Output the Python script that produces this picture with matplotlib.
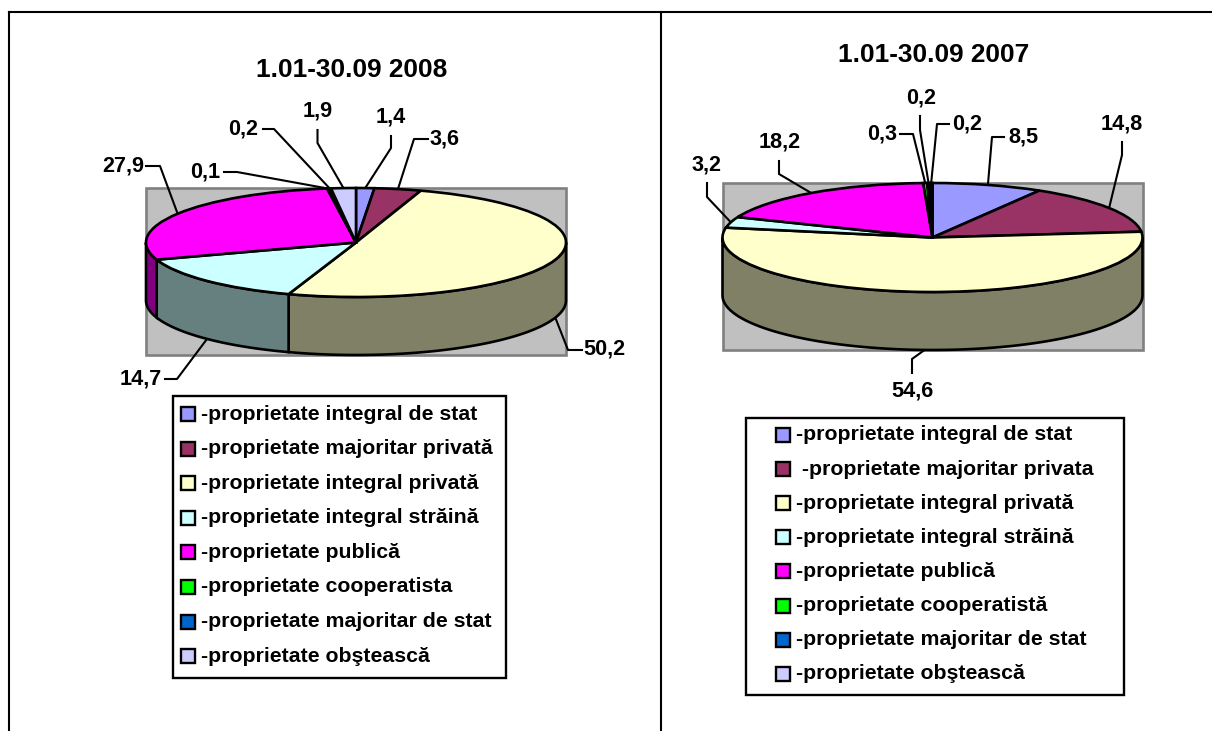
#! /usr/bin/python3

import matplotlib
matplotlib.use('Agg')
import matplotlib.pyplot as plt
from matplotlib.patches import Rectangle
import numpy as np

# share of each form of ownership, in drawing order (clockwise from the top)
values_2008 = [1.4, 3.6, 50.2, 14.7, 27.9, 0.1, 0.2, 1.9]
values_2007 = [8.5, 14.8, 54.6, 3.2, 18.2, 0.3, 0.2, 0.2]
labels_2008 = ["1,4", "3,6", "50,2", "14,7", "27,9", "0,1", "0,2", "1,9"]
labels_2007 = ["8,5", "14,8", "54,6", "3,2", "18,2", "0,3", "0,2", "0,2"]
legend_2008 = ["-proprietate integral de stat", "-proprietate majoritar privată",
               "-proprietate integral privată", "-proprietate integral străină",
               "-proprietate publică", "-proprietate cooperatista",
               "-proprietate majoritar de stat", "-proprietate obştească"]
legend_2007 = ["-proprietate integral de stat", " -proprietate majoritar privata",
               "-proprietate integral privată", "-proprietate integral străină",
               "-proprietate publică", "-proprietate cooperatistă",
               "-proprietate majoritar de stat", "-proprietate obştească"]
colors = ["#9999FF", "#993366", "#FFFFCC", "#CCFFFF", "#FF00FF", "#00FF00", "#0066CC", "#CCCCFF"]
side_colors = ["#4D4D80", "#4D1A33", "#808066", "#668080", "#800080", "#008000", "#003366", "#666680"]

W, H = 1212, 731
plt.rcParams['font.family'] = ['Liberation Sans', 'DejaVu Sans']
plt.rcParams['font.weight'] = 'bold'

fig = plt.figure(figsize=(W / 100, H / 100), dpi=100)
page = fig.add_axes([0, 0, 1, 1])
page.set_xlim(0, W)
page.set_ylim(H, 0)
page.axis('off')

# cell borders of the table around the charts
page.plot([9, 9], [12, H], color='k', lw=1.5)
page.plot([660.5, 660.5], [12, H], color='k', lw=1.5)
page.plot([9, W], [12, 12], color='k', lw=1.5)


def draw_panel(values, labels, names, title, title_xy, cx, cy, label_xy, elbows, legend_box, legend_rows):
    rx, ry, depth = 210, 54.5, 58

    # grey plot area behind the pie
    page.add_patch(Rectangle((cx - rx, cy - ry), 2 * rx, 2 * ry + depth, fc='#C0C0C0', ec='#808080', lw=1.9, zorder=1))
    page.text(title_xy[0], title_xy[1], title, fontsize=18.9, ha='center', va='center')

    # the pie gets its own axes so wedges come out as ellipses
    depth_u = depth / ry
    m = 1.15
    ax = fig.add_axes([(cx - m * rx) / W, 1 - (cy + (m + depth_u) * ry) / H,
                       2 * m * rx / W, (2 * m + depth_u) * ry / H], zorder=2)
    wedges, _ = ax.pie(values, colors=colors, startangle=90, counterclock=False, radius=1,
                       wedgeprops={'edgecolor': 'k', 'linewidth': 1.9})
    for w in wedges:
        w.set_zorder(3)
    ax.set_aspect('auto')
    ax.set_xlim(-m, m)
    ax.set_ylim(-m - depth_u, m)
    ax.patch.set_visible(False)

    edges = np.cumsum([0] + values) / sum(values) * 360

    # side wall, only the part that faces the viewer
    for i in range(len(values)):
        t0 = max(edges[i], 90)
        t1 = min(edges[i + 1], 270)
        if t1 > t0:
            t = np.radians(np.linspace(t0, t1, 80))
            x = np.sin(t)
            y = np.cos(t)
            ax.fill(np.r_[x, x[::-1]], np.r_[y, y[::-1] - depth_u], fc=side_colors[i], ec='k', lw=1.9, zorder=2)

    # labels with leader lines going to the middle of each slice
    for i in range(len(values)):
        mid = np.radians((edges[i] + edges[i + 1]) / 2)
        ax_x = cx + rx * np.sin(mid)
        ax_y = cy - ry * np.cos(mid)
        if np.cos(mid) < 0:
            ax_y += depth
        page.plot([elbows[i][0][0], elbows[i][1][0], ax_x], [elbows[i][0][1], elbows[i][1][1], ax_y],
                  color='k', lw=1.5, zorder=2)
        page.text(label_xy[i][0], label_xy[i][1], labels[i], fontsize=15.6, ha='center', va='center')

    # legend box
    x0, y0, x1, y1 = legend_box
    page.add_patch(Rectangle((x0, y0), x1 - x0, y1 - y0, fc='white', ec='k', lw=1.7, zorder=1))
    hx, tx, first, pitch = legend_rows
    for i in range(len(names)):
        yy = first + i * pitch
        page.add_patch(Rectangle((hx, yy - 7), 14, 14, fc=colors[i], ec='k', lw=1.7, zorder=2))
        page.text(tx, yy, names[i], fontsize=15.3, ha='left', va='center', zorder=3)


draw_panel(values_2008, labels_2008, legend_2008, "1.01-30.09 2008", (352, 70), 356, 242.5,
           [(391, 117), (445, 139), (604, 349), (141, 379), (123, 166), (205.5, 172), (243, 129), (318, 111)],
           [[(391, 136), (391, 148)], [(428, 139), (414, 139)], [(582, 350), (568, 350)], [(165, 379), (177, 379)],
            [(146, 166), (160, 166)], [(224, 172), (237, 172)], [(263, 129), (274, 129)], [(317.5, 130), (317.5, 143)]],
           (173, 396, 506, 678), (181, 201, 414, 34.6))

draw_panel(values_2007, labels_2007, legend_2007, "1.01-30.09 2007", (934, 55), 932.5, 237.5,
           [(1023, 137), (1122, 124), (912, 391), (707, 165), (780, 142), (882, 134), (921, 98), (967, 124)],
           [[(1004, 137), (992, 137)], [(1122, 142), (1122, 155)], [(912, 373), (912, 359)], [(707, 183), (707, 197)],
            [(779, 161), (779, 174)], [(900, 134), (913, 134)], [(920, 116), (920, 130)], [(949, 124), (937, 124)]],
           (746, 418, 1124, 695), (776, 796, 435, 34.1))

fig.savefig("out.png", dpi=100)
